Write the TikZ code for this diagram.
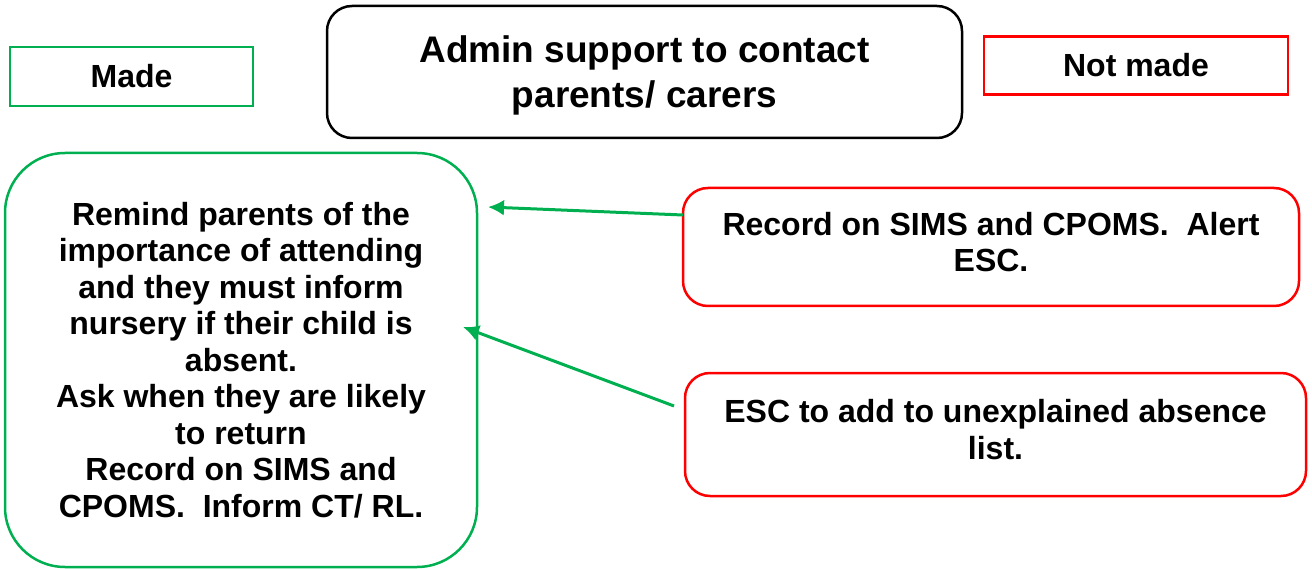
\documentclass[tikz,border=0pt]{standalone}
\usetikzlibrary{arrows.meta}
\usepackage{fontspec}
\setmainfont{Liberation Sans}
\definecolor{madegreen}{RGB}{0,176,80}
\definecolor{notred}{RGB}{255,0,0}
\newcommand{\arr}[2]{\draw[madegreen,line width=3pt,-{Latex[length=16pt,width=16pt]}] (#1) -- (#2);}

\begin{document}
\begin{tikzpicture}[x=1pt,y=-1pt,
  every node/.style={font=\bfseries\fontsize{32}{36.5}\selectfont,align=center,inner sep=0pt},
  greenbox/.style={draw=madegreen,line width=2.5pt},
  redbox/.style={draw=notred,line width=2.5pt,rounded corners=25pt,text depth=10pt},
  blackbox/.style={draw=black,line width=2.5pt,rounded corners=25pt}]
  \useasboundingbox (0,0) rectangle (1312,569);
  \node[greenbox,minimum width=243pt,minimum height=59pt] (made) at (131.5,76.5) {Made};
  \node[blackbox,minimum width=635pt,minimum height=132pt,text depth=0pt,font=\bfseries\fontsize{37}{45}\selectfont] (admin) at (644.5,72) {Admin support to contact\\parents/ carers};
  \node[draw=notred,line width=2.5pt,minimum width=304pt,minimum height=58pt] (notmade) at (1136,65.5) {Not made};
  \node[greenbox,rounded corners=60pt,minimum width=472pt,minimum height=414pt] (remind) at (241,360)
    {Remind parents of the\\importance of attending\\and they must inform\\nursery if their child is\\absent.\\Ask when they are likely\\to return\\Record on SIMS and\\CPOMS.\ \ Inform CT/ RL.};
  \node[redbox,minimum width=616pt,minimum height=118pt] (sims) at (991,247)
    {Record on SIMS and CPOMS.\ \ Alert\\ESC.};
  \node[redbox,minimum width=621pt,minimum height=123pt] (esc) at (995.5,434.5)
    {ESC to add to unexplained absence\\list.};
  % arrow ends
  \coordinate (simsout) at (683,215);
  \coordinate (simsin) at (488,207);
  \coordinate (escout) at (674,406);
  \coordinate (escin) at (463,327);
  \arr{simsout}{simsin}
  \arr{escout}{escin}
\end{tikzpicture}
\end{document}
